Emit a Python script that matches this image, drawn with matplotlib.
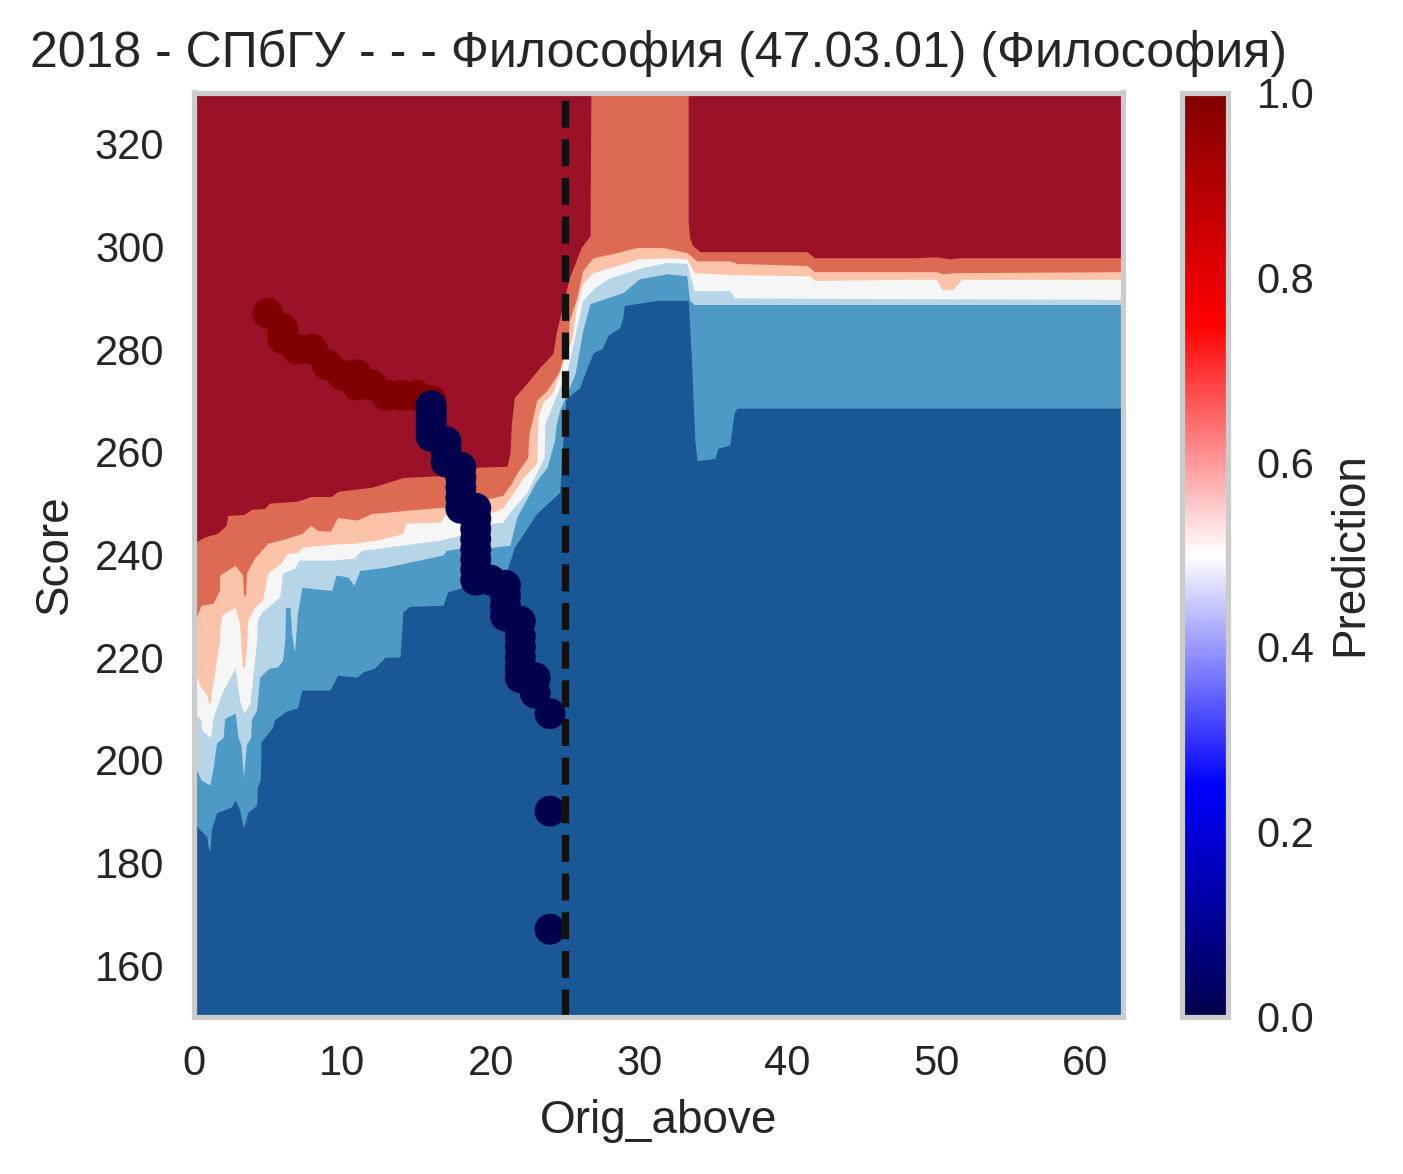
import matplotlib
matplotlib.use("Agg")
import matplotlib.pyplot as plt
from matplotlib.cm import ScalarMappable
from matplotlib.colors import Normalize

plt.rcParams['font.family'] = ['Liberation Sans', 'DejaVu Sans']

band_colors = ['#195796', '#4d9ac6', '#b6d6e8', '#f6f6f6', '#fbc4aa', '#dd6a53', '#9b1128']

# contour edges (Orig_above, Score)
x1 = [0, .9, .95, 1.1, 1.2, 1.55, 2.55, 2.8, 3.1, 3.37, 3.65, 4.25, 4.3, 4.5, 4.55, 5.3, 5.45, 6.25, 7, 7.3, 9.2, 9.7, 11, 11.4, 12.2, 12.9, 13.9, 14.1, 14.55, 16.8, 17.1, 17.9, 21.1, 21.6, 23.1, 24.65, 25.05, 25.2, 26, 26.5, 26.9, 27.5, 27.9, 28.7, 28.9, 29, 31.2, 33.3, 33.5, 33.75, 33.9, 35.1, 35.3, 36.1, 36.4, 36.6, 62.6]
y1 = [188, 185.3, 183.7, 182.4, 186.7, 190, 191.1, 192.5, 190.5, 187, 190, 191.5, 195, 196.4, 203.8, 206.5, 208.1, 209.8, 210.4, 213.9, 213.9, 216.8, 216.4, 217.4, 218.2, 220.3, 220.3, 229.1, 230.2, 230.4, 233, 233.7, 237.2, 241.7, 248.3, 252.4, 270.3, 270.9, 272.8, 276.7, 279.6, 280.4, 283, 284.5, 286.5, 288.8, 289.8, 289.8, 279.5, 262.5, 258.6, 259, 261, 261.6, 268, 268.8, 268.8]

x2 = [0, .5, 1.1, 1.3, 1.55, 2, 2.1, 2.8, 3, 3.2, 3.37, 3.55, 3.85, 3.9, 4.25, 4.45, 5.1, 5.65, 6, 6.15, 6.2, 6.5, 6.6, 6.8, 7, 7.3, 9.3, 9.6, 10.4, 10.8, 11.2, 12.9, 16.8, 17, 17.9, 20.1, 21.3, 21.75, 23.1, 23.8, 24.3, 24.4, 24.65, 25.7, 26.2, 26.7, 28.9, 30, 31.9, 33.2, 33.4, 33.7, 62.6]
y2 = [199.7, 196.4, 195.4, 198.3, 203.6, 204.7, 208.4, 209.4, 204.7, 203.2, 196.8, 203.2, 204.7, 208.1, 210, 216.4, 218.2, 218.4, 219.7, 223.6, 230, 230, 225, 221.3, 228.9, 233.9, 233.3, 236.3, 235.9, 234.3, 237.2, 237.8, 240.2, 241.1, 241.5, 241.7, 242.1, 247.5, 254.7, 257.3, 262.5, 265.4, 268.4, 275.6, 283.9, 289.2, 291.3, 294, 295, 294.6, 289.8, 289, 289]

x3 = [0, .5, .55, 1.15, 1.3, 1.9, 2.8, 3.1, 3.4, 3.8, 4.25, 4.3, 4.6, 5.8, 6, 6.8, 7.1, 9.3, 10.8, 11.3, 12.9, 16.6, 17.9, 20.1, 20.8, 21.5, 22.4, 23.6, 23.65, 24.2, 25.2, 25.9, 26.2, 27, 28, 30.2, 31.9, 33.2, 33.7, 36.1, 36.4, 41.8, 62.6]
y3 = [209.4, 208.1, 206.1, 204.6, 208.4, 213.3, 218.2, 211.9, 209.4, 211.4, 223.6, 227.5, 229.1, 232, 236.7, 237.6, 239.2, 239.2, 239.6, 241.1, 241.7, 243.1, 244, 246.4, 246.6, 249.3, 252.2, 259.2, 265.8, 269.7, 276.7, 285.9, 289.8, 292.3, 294.2, 296.2, 297.2, 297, 291.7, 291.7, 290.3, 290.2, 290]

x4 = [0, .4, .9, 1, 1.15, 1.2, 1.75, 1.76, 1.9, 2.8, 3.1, 3.2, 3.3, 3.45, 3.6, 3.65, 4.1, 4.65, 5, 5.9, 6.3, 7, 7.3, 9.3, 10.8, 12.4, 14.1, 14.3, 16.6, 16.9, 20.1, 20.8, 21.5, 22.2, 23.1, 23.15, 23.2, 23.5, 24.2, 24.85, 25.5, 25.8, 26.2, 26.9, 28.5, 30, 31.9, 33.2, 33.7, 36.6, 41.5, 41.8, 48.2, 50, 50.4, 51.1, 51.7, 62.6]
y4 = [218.4, 214.9, 212.9, 211.4, 211.4, 213.3, 223.6, 225.6, 228.5, 230, 226.9, 222.3, 218.4, 218.4, 223.6, 227.5, 230, 231.4, 236.7, 238.6, 240.5, 240.7, 241.7, 242.3, 242.5, 243.1, 244.4, 246.4, 246.6, 247.9, 248.5, 249.3, 252.2, 255.3, 258.1, 263.1, 267, 269.9, 271.9, 277.5, 282.6, 289.2, 293.1, 295.2, 296.6, 297.9, 298.1, 297.9, 295.2, 294.8, 294.6, 293.7, 293.9, 293.9, 291.9, 291.9, 293.9, 293.9]

x5 = [0, .2, .5, 1.3, 1.75, 1.76, 2.8, 3.3, 3.37, 3.5, 3.57, 4.1, 5, 6.1, 7.3, 7.9, 8.35, 9.2, 9.7, 11, 12, 12.9, 14.3, 16.8, 19.9, 20.8, 21.4, 21.75, 22.5, 22.55, 22.6, 22.8, 23.1, 23.8, 24.6, 25.2, 25.3, 25.8, 26.2, 26.9, 28.5, 29.8, 31.6, 33.2, 33.9, 36.1, 36.6, 41.3, 41.8, 50, 50.4, 51.2, 62.6]
y5 = [226.1, 228.1, 230.4, 230.8, 233.3, 236.3, 238.2, 236.3, 232.4, 232.4, 236.8, 239.6, 242.5, 243.3, 244.4, 246, 245, 244.8, 247.5, 247, 248.3, 248.5, 248.9, 249.5, 251.2, 251.8, 254.2, 256.1, 259.2, 262.5, 264.1, 266.4, 270.3, 272.3, 275.8, 282, 285.9, 290.3, 295.6, 298.1, 299.1, 300.1, 300.1, 299.1, 297.5, 297.5, 297, 296.6, 295.4, 295.4, 295, 295.2, 295.4]

x6 = [0, .74, 1.6, 2.2, 2.3, 3.4, 3.9, 4.8, 5.1, 7, 7.9, 9.3, 9.7, 12, 12.9, 14.1, 16.9, 19.1, 21.1, 21.3, 21.4, 21.6, 22.6, 23.3, 24.2, 24.4, 25.3, 26.1, 26.7, 26.7, 26.75, 33.3, 33.3, 33.4, 33.6, 34.1, 41.3, 41.8, 48.6, 50, 50.9, 51.6, 62.6]
y6 = [242.5, 243.7, 244.4, 246, 247.9, 248.1, 249.1, 249.3, 250.3, 250.7, 251.6, 251.6, 252.6, 253.4, 254.2, 255.3, 255.7, 257.3, 257.5, 260, 265.8, 270.9, 274.2, 276.7, 279.5, 283.3, 294.2, 300.1, 302.4, 305.3, 330.3, 330.3, 305.3, 302, 300.5, 299.3, 299.3, 298.1, 298.1, 298.3, 297.9, 298.1, 298.1]

# the edges above were read about 0.3 too high on the score scale
read_shift = 0.3

# applicants
red_x = [5, 6, 6, 7, 8, 9, 10, 11, 11, 12, 13, 14, 15, 16]
red_y = [287, 284, 282, 280, 280, 277, 275, 275, 273, 273, 271, 271, 271, 270]
blue_x = [16, 16, 16, 16, 16, 16, 16, 17, 17, 17, 18, 18, 18, 18, 18, 19, 19, 19, 19, 19, 19, 19, 19, 20, 21, 21, 21, 21, 22, 22, 22, 22, 22, 22, 23, 23, 24, 24, 24]
blue_y = [269, 268, 267, 266, 265, 264, 263, 262, 260, 258, 257, 255, 253, 251, 249, 249, 247, 245, 243, 241, 239, 237, 235, 235, 234, 232, 230, 228, 227, 224, 222, 220, 218, 216, 216, 213, 209, 190, 167]

cutoff = 25
W, H = 1403, 1174

fig = plt.figure(figsize=(W / 300, H / 300), dpi=300)
ax = fig.add_axes([193.5 / W, (H - 1016.5) / H, 929.9 / W, 924 / H])
cax = fig.add_axes([1181.5 / W, (H - 1016.5) / H, 46 / W, 924 / H])

ymin, ymax = 150, 330
xmax = 62.6

ax.set_facecolor(band_colors[0])
edges = [(x1, y1), (x2, y2), (x3, y3), (x4, y4), (x5, y5), (x6, y6)]
for (ex, ey), c in zip(edges, band_colors[1:]):
    ax.fill_between(ex, [v - read_shift for v in ey], ymax, color=c, linewidth=0, zorder=1)

ax.scatter(red_x, red_y, c=[1] * len(red_x), cmap='seismic', vmin=0, vmax=1, s=55, linewidths=0, zorder=2)
ax.scatter(blue_x, blue_y, c=[0] * len(blue_x), cmap='seismic', vmin=0, vmax=1, s=55, linewidths=0, zorder=3)
ax.plot([cutoff, cutoff], [ymin, ymax], color='#111111', linestyle='--', linewidth=1.75, zorder=4)

ax.set_xlim(0, xmax)
ax.set_ylim(ymin, ymax)
ax.set_xticks([0, 10, 20, 30, 40, 50, 60])
ax.set_yticks([160, 180, 200, 220, 240, 260, 280, 300, 320])
ax.tick_params(length=0, labelsize=10, labelcolor='#262626')
ax.tick_params(axis='x', pad=6.6)
ax.tick_params(axis='y', pad=7)
ax.set_xlabel('Orig_above', fontsize=11, color='#262626', labelpad=3.6)
ax.set_ylabel('Score', fontsize=11, color='#262626', labelpad=4.2)
ax.set_title('2018 - СПбГУ - - - Философия (47.03.01) (Философия)', fontsize=12, color='#262626', pad=6.2)
for s in ax.spines.values():
    s.set_color('#cccccc')
    s.set_linewidth(1.25)
    s.set_zorder(5)

cb = fig.colorbar(ScalarMappable(Normalize(0, 1), 'seismic'), cax=cax)
cb.set_label('Prediction', fontsize=11, color='#262626', labelpad=3.2)
cb.set_ticks([0, .2, .4, .6, .8, 1])
cb.ax.tick_params(length=0, labelsize=10, labelcolor='#262626', pad=7)
cb.outline.set_edgecolor('#cccccc')
cb.outline.set_linewidth(1.25)

fig.savefig('out.png', dpi=300)
